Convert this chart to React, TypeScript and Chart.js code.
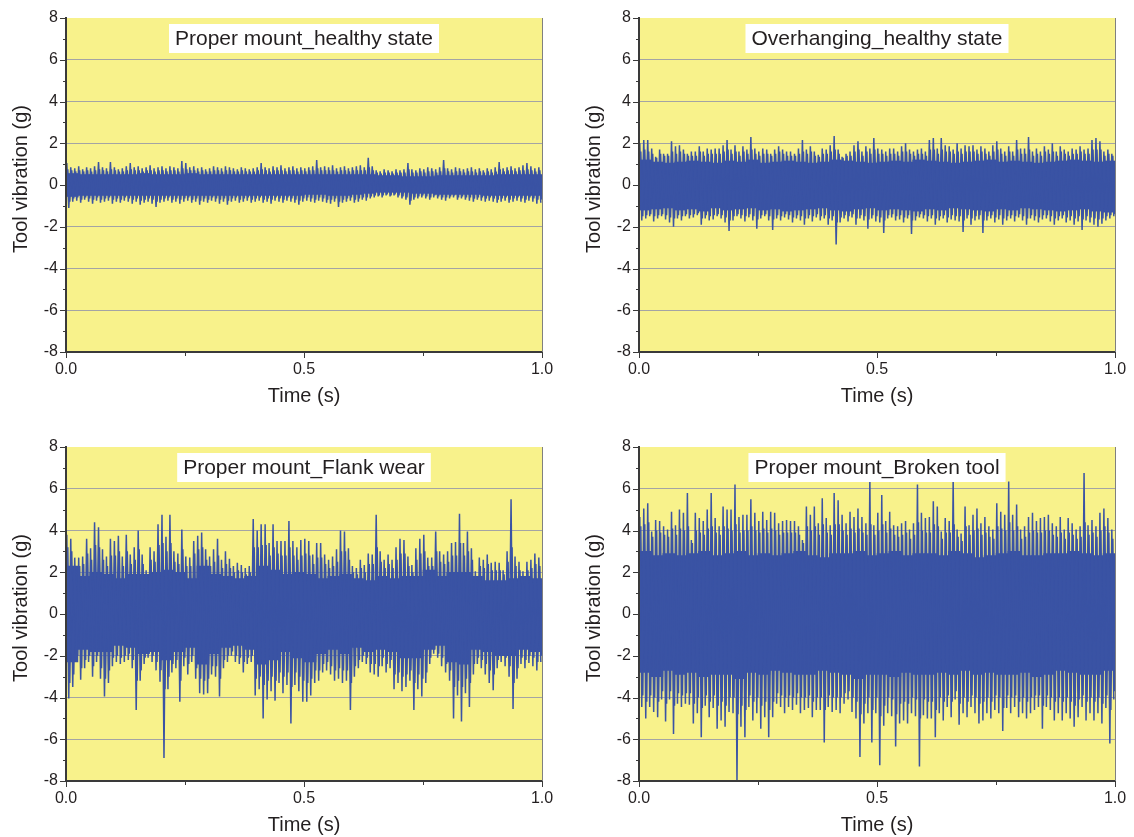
import React, { useEffect, useRef } from 'react';
import { Chart, registerables } from 'chart.js';

Chart.register(...registerables);

// ---------------- DATA ----------------
const X_TITLE = 'Time (s)';
const Y_TITLE = 'Tool vibration (g)';
const Y_MIN = -8;
const Y_MAX = 8;
const Y_MAJOR_TICKS = [-8, -6, -4, -2, 0, 2, 4, 6, 8];
const Y_MINOR_TICKS = [-7, -5, -3, -1, 1, 3, 5, 7];
const X_MAJOR_TICKS = [0, 0.5, 1.0];
const X_MINOR_TICKS = [0.25, 0.75];

const TL_TITLE = 'Proper mount_healthy state';
const TR_TITLE = 'Overhanging_healthy state';
const BL_TITLE = 'Proper mount_Flank wear';
const BR_TITLE = 'Proper mount_Broken tool';

// solid core band of the signal (40 bins over 0..1 s)
const TL_CORE_HI = [0.55,0.5,0.5,0.5,0.5,0.5,0.55,0.5,0.5,0.5,0.55,0.5,0.5,0.5,0.5,0.5,0.5,0.5,0.5,0.5,0.5,0.5,0.5,0.5,0.5,0.5,0.45,0.45,0.4,0.4,0.4,0.45,0.45,0.45,0.45,0.45,0.5,0.5,0.5,0.5];
const TL_CORE_LO = [-0.55,-0.5,-0.5,-0.5,-0.5,-0.5,-0.5,-0.5,-0.5,-0.5,-0.5,-0.5,-0.5,-0.5,-0.5,-0.5,-0.5,-0.5,-0.5,-0.5,-0.45,-0.45,-0.5,-0.5,-0.45,-0.4,-0.35,-0.35,-0.35,-0.4,-0.4,-0.45,-0.45,-0.45,-0.45,-0.5,-0.5,-0.5,-0.5,-0.5];
// extreme envelope: max / min in each of 120 bins over 0..1 s
const TL_PEAK_HI = [
  1.05,0.85,0.8,0.9,0.75,0.85,0.8,0.9,1.1,0.85,
  0.8,1.1,0.85,0.75,0.8,0.9,1.05,0.85,0.9,0.8,
  0.85,0.95,0.8,0.85,0.9,0.8,0.9,0.85,0.8,1.15,
  1.05,0.85,0.9,0.8,0.85,0.75,0.8,0.9,0.85,0.8,
  0.9,0.85,0.8,0.75,0.85,0.8,0.75,0.8,0.85,1.05,
  0.85,0.8,0.9,0.85,0.95,0.8,0.85,0.9,0.8,0.85,
  0.8,0.85,0.9,1.2,0.85,0.9,0.85,0.95,0.8,0.85,
  0.9,0.8,0.85,0.9,0.95,0.85,1.3,0.9,0.7,0.65,
  0.75,0.7,0.65,0.75,0.7,0.75,1.05,0.75,0.7,0.8,
  0.75,0.85,0.8,0.75,0.85,1.2,0.8,0.75,0.85,0.8,
  0.75,0.8,0.85,0.75,0.8,0.7,0.8,0.75,0.85,1.1,
  0.8,0.85,0.9,0.8,0.85,0.95,1.05,0.9,0.8,0.85];
const TL_PEAK_LO = [
  -1.1,-0.8,-0.75,-0.85,-0.7,-0.8,-0.9,-0.75,-0.85,-0.8,
  -0.75,-0.9,-0.8,-0.85,-0.75,-0.8,-0.9,-0.8,-0.95,-0.85,
  -0.8,-0.9,-1.05,-0.85,-0.8,-0.75,-0.85,-0.8,-0.9,-0.8,
  -0.75,-0.85,-0.8,-0.95,-0.8,-0.85,-0.75,-0.8,-0.9,-0.8,
  -0.95,-0.8,-0.75,-0.85,-0.8,-0.75,-0.85,-0.8,-0.75,-0.85,
  -0.8,-0.9,-0.75,-0.8,-0.85,-0.75,-0.8,-0.85,-0.95,-0.8,
  -0.75,-0.8,-0.85,-0.75,-0.8,-0.85,-0.9,-0.8,-1.05,-0.85,
  -0.8,-0.75,-0.85,-0.8,-0.7,-0.75,-0.65,-0.6,-0.55,-0.6,
  -0.5,-0.55,-0.5,-0.6,-0.65,-0.7,-0.95,-0.7,-0.65,-0.6,
  -0.65,-0.7,-0.6,-0.65,-0.7,-0.75,-0.65,-0.6,-0.7,-0.65,
  -0.7,-0.75,-0.8,-0.7,-0.75,-0.8,-0.75,-0.8,-0.85,-0.8,
  -0.75,-0.85,-0.8,-0.75,-0.8,-0.85,-0.75,-0.8,-0.9,-0.85];
// dense envelope (typical swing) in each of 120 bins
const TL_MID_HI = [
  0.75,0.7,0.65,0.7,0.65,0.7,0.65,0.7,0.75,0.7,
  0.65,0.75,0.7,0.65,0.65,0.7,0.75,0.7,0.7,0.65,
  0.7,0.7,0.65,0.7,0.7,0.65,0.7,0.7,0.65,0.8,
  0.75,0.7,0.7,0.65,0.7,0.65,0.65,0.7,0.7,0.65,
  0.7,0.7,0.65,0.65,0.7,0.65,0.65,0.65,0.7,0.75,
  0.7,0.65,0.7,0.7,0.7,0.65,0.7,0.7,0.65,0.7,
  0.65,0.7,0.7,0.8,0.7,0.7,0.7,0.7,0.65,0.7,
  0.7,0.65,0.7,0.7,0.7,0.7,0.85,0.7,0.6,0.55,
  0.6,0.6,0.55,0.6,0.6,0.6,0.75,0.6,0.6,0.65,
  0.6,0.65,0.65,0.6,0.65,0.8,0.65,0.6,0.65,0.65,
  0.6,0.65,0.65,0.6,0.65,0.6,0.65,0.6,0.65,0.75,
  0.65,0.7,0.7,0.65,0.7,0.7,0.75,0.7,0.65,0.7];
const TL_MID_LO = [
  -0.8,-0.65,-0.6,-0.7,-0.6,-0.65,-0.7,-0.6,-0.7,-0.65,
  -0.6,-0.7,-0.65,-0.7,-0.6,-0.65,-0.7,-0.65,-0.75,-0.7,
  -0.65,-0.7,-0.8,-0.7,-0.65,-0.6,-0.7,-0.65,-0.7,-0.65,
  -0.6,-0.7,-0.65,-0.75,-0.65,-0.7,-0.6,-0.65,-0.7,-0.65,
  -0.75,-0.65,-0.6,-0.7,-0.65,-0.6,-0.7,-0.65,-0.6,-0.7,
  -0.65,-0.7,-0.6,-0.65,-0.7,-0.6,-0.65,-0.7,-0.75,-0.65,
  -0.6,-0.65,-0.7,-0.6,-0.65,-0.7,-0.7,-0.65,-0.8,-0.7,
  -0.65,-0.6,-0.7,-0.65,-0.6,-0.6,-0.55,-0.5,-0.5,-0.5,
  -0.45,-0.5,-0.45,-0.5,-0.55,-0.6,-0.75,-0.6,-0.55,-0.5,
  -0.55,-0.6,-0.5,-0.55,-0.6,-0.6,-0.55,-0.5,-0.6,-0.55,
  -0.6,-0.6,-0.65,-0.6,-0.6,-0.65,-0.6,-0.65,-0.7,-0.65,
  -0.6,-0.7,-0.65,-0.6,-0.65,-0.7,-0.6,-0.65,-0.7,-0.7];

const TR_CORE_HI = [1.2,1.1,1.05,1.1,1.15,1.1,1.05,1.15,1.1,1.2,1.05,1.1,1.15,1.1,1.05,1.1,1.2,1.15,1.1,1.05,1.1,1.15,1.1,1.2,1.15,1.1,1.05,1.1,1.15,1.2,1.1,1.15,1.1,1.05,1.1,1.15,1.2,1.15,1.1,1.15];
const TR_CORE_LO = [-1.2,-1.15,-1.1,-1.2,-1.15,-1.25,-1.1,-1.2,-1.15,-1.1,-1.2,-1.15,-1.25,-1.2,-1.15,-1.1,-1.2,-1.25,-1.15,-1.1,-1.2,-1.15,-1.2,-1.25,-1.15,-1.2,-1.1,-1.15,-1.2,-1.25,-1.15,-1.2,-1.1,-1.15,-1.2,-1.25,-1.2,-1.15,-1.25,-1.3];
const TR_PEAK_HI = [
  2.0,2.15,2.15,1.75,1.35,1.7,1.5,1.5,2.1,1.85,
  1.9,1.7,1.5,1.6,1.6,1.85,1.6,1.75,1.7,1.75,
  1.75,1.9,2.15,1.7,1.9,1.6,1.85,1.7,2.3,1.75,
  1.6,1.75,1.7,1.5,1.7,1.85,1.7,1.6,1.6,1.5,
  1.75,2.15,1.7,1.85,1.6,1.45,1.75,1.7,1.9,2.35,
  1.7,1.35,1.5,1.6,1.9,2.1,1.6,1.85,1.75,2.25,
  1.75,1.7,1.6,1.75,1.75,1.6,1.85,2.0,1.7,1.6,
  1.7,1.75,1.6,2.15,2.25,1.75,2.25,1.9,1.85,1.7,
  2.0,1.75,1.9,1.85,1.9,1.7,1.85,1.75,1.6,1.9,
  2.1,1.75,1.6,1.85,1.6,2.15,1.75,1.75,2.3,1.6,
  1.75,1.6,1.85,1.7,2.0,1.6,1.85,1.7,1.6,1.75,
  1.7,1.85,1.7,1.75,2.15,2.25,2.1,1.6,1.7,1.5];
const TR_PEAK_LO = [
  -1.7,-1.6,-1.5,-1.75,-1.6,-1.5,-1.65,-1.8,-2.0,-1.6,
  -1.7,-1.5,-1.6,-1.55,-1.45,-1.9,-1.6,-1.7,-1.65,-1.5,
  -1.6,-1.8,-2.2,-1.7,-1.5,-1.6,-1.75,-1.55,-1.7,-2.1,
  -1.6,-1.5,-1.7,-2.15,-1.6,-1.7,-1.55,-1.65,-1.8,-1.6,
  -1.7,-1.9,-1.6,-1.75,-1.55,-1.7,-1.6,-1.9,-1.7,-2.85,
  -1.8,-1.6,-1.75,-1.55,-1.9,-1.6,-1.7,-2.1,-1.6,-1.75,
  -1.8,-2.3,-1.6,-1.55,-1.7,-1.65,-1.8,-1.6,-2.35,-1.7,
  -1.55,-1.6,-1.75,-1.6,-1.9,-1.7,-1.6,-1.8,-1.65,-1.7,
  -1.75,-2.25,-1.6,-1.9,-1.7,-1.65,-2.3,-1.7,-1.6,-1.8,
  -1.65,-1.9,-1.7,-1.6,-1.75,-1.55,-1.7,-1.9,-1.6,-1.7,
  -1.8,-1.65,-1.6,-1.75,-1.9,-1.7,-1.6,-1.8,-1.7,-1.9,
  -1.75,-2.15,-1.7,-1.8,-1.9,-2.0,-1.85,-1.7,-1.6,-1.5];
const TR_MID_HI = [
  1.6,1.7,1.6,1.5,1.3,1.5,1.4,1.4,1.6,1.5,
  1.6,1.5,1.4,1.4,1.4,1.6,1.4,1.5,1.5,1.5,
  1.5,1.6,1.7,1.5,1.6,1.4,1.6,1.5,1.7,1.5,
  1.4,1.5,1.5,1.4,1.5,1.6,1.5,1.4,1.4,1.4,
  1.5,1.6,1.5,1.6,1.4,1.35,1.5,1.5,1.6,1.7,
  1.5,1.3,1.4,1.4,1.6,1.7,1.4,1.6,1.5,1.7,
  1.5,1.5,1.4,1.5,1.5,1.4,1.6,1.6,1.5,1.4,
  1.5,1.5,1.4,1.7,1.7,1.5,1.7,1.6,1.6,1.5,
  1.6,1.5,1.6,1.6,1.6,1.5,1.6,1.5,1.4,1.6,
  1.7,1.5,1.4,1.6,1.4,1.7,1.5,1.5,1.7,1.4,
  1.5,1.4,1.6,1.5,1.6,1.4,1.6,1.5,1.4,1.5,
  1.5,1.6,1.5,1.5,1.7,1.7,1.7,1.4,1.5,1.4];
const TR_MID_LO = [
  -1.5,-1.45,-1.4,-1.5,-1.45,-1.4,-1.45,-1.55,-1.6,-1.45,
  -1.5,-1.4,-1.45,-1.4,-1.35,-1.6,-1.45,-1.5,-1.45,-1.4,
  -1.45,-1.55,-1.7,-1.5,-1.4,-1.45,-1.5,-1.4,-1.5,-1.65,
  -1.45,-1.4,-1.5,-1.65,-1.45,-1.5,-1.4,-1.45,-1.55,-1.45,
  -1.5,-1.6,-1.45,-1.5,-1.4,-1.5,-1.45,-1.6,-1.5,-1.8,
  -1.55,-1.45,-1.5,-1.4,-1.6,-1.45,-1.5,-1.65,-1.45,-1.5,
  -1.55,-1.7,-1.45,-1.4,-1.5,-1.45,-1.55,-1.45,-1.7,-1.5,
  -1.4,-1.45,-1.5,-1.45,-1.6,-1.5,-1.45,-1.55,-1.45,-1.5,
  -1.5,-1.7,-1.45,-1.6,-1.5,-1.45,-1.7,-1.5,-1.45,-1.55,
  -1.45,-1.6,-1.5,-1.45,-1.5,-1.4,-1.5,-1.6,-1.45,-1.5,
  -1.55,-1.45,-1.45,-1.5,-1.6,-1.5,-1.45,-1.55,-1.5,-1.6,
  -1.5,-1.65,-1.5,-1.55,-1.6,-1.65,-1.6,-1.5,-1.45,-1.4];

const BL_CORE_HI = [2.3,1.8,2.0,1.9,1.7,1.9,1.9,2.0,2.1,2.0,1.7,2.3,1.9,1.8,1.7,1.8,2.3,2.1,1.9,2.0,1.9,1.7,1.8,1.9,1.7,1.6,1.8,1.7,1.8,1.8,2.1,1.8,2.0,2.0,1.8,1.6,1.6,1.7,1.8,1.7];
const BL_CORE_LO = [-2.3,-1.7,-1.8,-1.8,-1.5,-1.6,-1.9,-1.8,-2.2,-1.8,-1.6,-2.4,-1.9,-1.6,-1.5,-1.7,-2.4,-2.2,-1.8,-2.1,-2.3,-1.9,-1.7,-1.9,-1.6,-1.8,-1.7,-1.8,-2.1,-2.1,-1.7,-1.5,-2.3,-2.4,-1.7,-1.8,-2.0,-2.0,-1.7,-1.8];
const BL_PEAK_HI = [
  3.8,3.6,2.7,2.7,2.75,3.6,3.15,4.4,4.15,3.1,
  2.75,3.6,3.5,3.75,2.75,3.8,2.85,3.2,4.0,2.85,
  2.1,3.2,3.0,4.3,4.75,3.7,4.75,3.0,2.9,4.05,
  2.75,2.7,3.5,3.75,3.9,3.1,2.75,3.1,3.6,2.6,
  3.0,2.65,2.3,2.45,2.35,2.2,2.3,4.55,4.0,4.3,
  4.3,3.4,4.3,3.5,3.5,3.5,4.45,3.5,3.2,3.55,
  3.6,3.5,2.85,3.4,3.4,2.85,2.6,2.75,3.1,4.0,
  3.95,3.15,2.3,2.2,2.6,2.35,2.9,2.85,4.75,3.0,
  2.6,2.85,2.6,3.2,3.6,3.55,2.75,2.35,3.15,3.6,
  3.8,2.7,2.7,3.95,3.0,2.85,3.0,3.4,3.45,4.8,
  3.4,3.95,3.15,2.05,2.7,2.6,2.85,2.45,2.5,2.45,
  2.1,3.0,5.5,2.75,2.5,2.05,2.5,2.6,2.9,2.7];
const BL_PEAK_LO = [
  -4.05,-3.5,-2.3,-3.15,-2.6,-2.3,-3.0,-2.3,-3.1,-3.95,
  -3.3,-2.5,-2.3,-2.4,-2.3,-2.2,-2.6,-4.6,-3.2,-2.4,
  -2.1,-2.3,-2.7,-3.25,-6.9,-3.6,-2.8,-2.6,-4.2,-2.5,
  -2.9,-2.3,-3.1,-3.8,-3.85,-3.8,-2.9,-3.0,-3.95,-2.6,
  -2.3,-2.0,-2.3,-2.4,-2.8,-2.4,-2.3,-3.9,-3.6,-5.0,
  -4.1,-3.7,-4.15,-3.3,-3.8,-3.4,-5.25,-3.4,-3.7,-4.2,
  -4.2,-3.9,-3.3,-3.2,-2.8,-2.7,-2.9,-3.2,-3.1,-3.3,
  -3.2,-4.6,-3.0,-2.6,-2.3,-2.4,-2.8,-2.9,-3.0,-2.5,
  -2.8,-2.6,-3.6,-3.3,-3.7,-3.5,-3.2,-4.6,-3.6,-3.95,
  -3.3,-2.4,-1.9,-2.1,-2.5,-2.8,-3.2,-5.0,-3.9,-5.15,
  -3.8,-4.45,-2.9,-2.4,-2.6,-2.9,-3.3,-3.65,-2.6,-2.3,
  -2.5,-3.0,-4.55,-3.1,-2.4,-2.6,-2.35,-2.5,-2.7,-2.3];
const BL_MID_HI = [
  3.2,3.0,2.3,2.3,2.4,2.9,2.6,3.3,3.2,2.6,
  2.3,2.8,2.8,3.0,2.3,3.0,2.4,2.6,3.1,2.4,
  1.9,2.6,2.5,3.3,3.4,3.0,3.4,2.5,2.4,3.1,
  2.3,2.3,2.9,3.1,3.2,2.6,2.3,2.5,2.8,2.2,
  2.4,2.2,2.0,2.1,2.0,1.9,2.0,3.2,3.2,3.3,
  3.3,2.8,3.2,2.9,2.8,2.8,3.2,2.8,2.6,2.8,
  2.9,2.8,2.4,2.7,2.7,2.4,2.2,2.3,2.5,3.0,
  3.0,2.6,2.0,1.9,2.2,2.0,2.4,2.4,3.2,2.5,
  2.2,2.4,2.2,2.6,2.9,2.9,2.3,2.0,2.6,2.9,
  3.0,2.3,2.3,3.0,2.5,2.4,2.5,2.8,2.8,3.4,
  2.8,3.0,2.6,1.8,2.3,2.2,2.4,2.1,2.1,2.1,
  1.9,2.5,3.2,2.3,2.1,1.8,2.1,2.2,2.4,2.3];
const BL_MID_LO = [
  -3.3,-2.9,-2.0,-2.6,-2.2,-2.0,-2.5,-2.0,-2.6,-3.1,
  -2.7,-2.1,-2.0,-2.1,-2.0,-1.9,-2.2,-3.2,-2.7,-2.1,
  -1.9,-2.0,-2.3,-2.7,-3.6,-3.0,-2.4,-2.2,-3.2,-2.1,
  -2.4,-2.0,-2.6,-3.1,-3.2,-3.1,-2.5,-2.5,-3.1,-2.2,
  -2.0,-1.8,-2.0,-2.1,-2.3,-2.1,-2.0,-3.1,-3.0,-3.4,
  -3.2,-3.0,-3.2,-2.8,-3.0,-2.8,-3.5,-2.8,-3.0,-3.2,
  -3.3,-3.1,-2.7,-2.7,-2.4,-2.3,-2.5,-2.7,-2.6,-2.7,
  -2.7,-3.3,-2.5,-2.2,-2.0,-2.1,-2.4,-2.4,-2.5,-2.1,
  -2.4,-2.2,-2.9,-2.8,-3.0,-2.9,-2.7,-3.3,-2.9,-3.1,
  -2.8,-2.1,-1.7,-1.9,-2.1,-2.4,-2.7,-3.5,-3.2,-3.5,
  -3.1,-3.3,-2.4,-2.1,-2.2,-2.4,-2.7,-2.9,-2.2,-2.0,
  -2.1,-2.5,-3.3,-2.6,-2.1,-2.2,-2.0,-2.1,-2.3,-2.0];

const BR_CORE_HI = [3.0,2.8,2.9,2.8,2.9,3.0,2.8,2.9,3.0,2.8,2.9,2.8,2.9,3.0,2.8,2.7,2.9,2.9,3.0,2.8,2.9,3.0,2.8,2.9,2.9,2.8,3.0,2.9,2.7,2.8,2.9,3.0,2.8,2.8,2.9,2.9,3.0,2.9,2.8,2.9];
const BR_CORE_LO = [-2.8,-3.0,-2.7,-2.9,-2.8,-3.0,-2.9,-2.9,-3.1,-2.8,-2.9,-2.7,-2.8,-2.9,-2.9,-2.7,-2.8,-2.9,-3.1,-2.9,-2.9,-3.0,-2.8,-2.9,-2.9,-2.8,-2.9,-2.7,-2.9,-2.8,-2.9,-2.9,-2.8,-3.0,-2.9,-2.7,-2.8,-2.9,-2.9,-2.7];
const BR_PEAK_HI = [
  4.65,5.05,5.3,3.95,4.5,4.45,4.2,4.05,4.9,4.25,
  5.0,4.85,5.8,3.55,4.85,4.6,4.45,5.0,5.8,4.6,
  4.2,5.15,5.0,5.0,6.2,4.65,4.75,4.75,5.5,4.85,
  4.45,4.9,4.5,4.9,4.85,4.35,4.45,4.5,4.45,4.45,
  4.2,3.55,5.15,4.75,5.15,4.35,5.55,4.6,4.25,5.8,
  5.45,4.75,4.35,4.9,4.65,5.05,4.65,4.35,6.45,4.25,
  4.85,5.7,4.45,4.9,4.25,4.2,4.35,4.45,4.05,4.35,
  6.2,4.85,4.6,4.65,5.4,5.15,3.95,4.6,4.45,6.4,
  4.05,3.85,5.15,4.25,4.75,5.05,4.35,4.65,4.2,4.05,
  5.3,4.9,4.75,6.35,4.75,5.25,4.05,4.2,4.65,4.85,
  4.45,4.6,4.65,4.75,4.35,4.2,4.65,4.05,4.6,4.35,
  4.05,4.2,6.75,4.25,4.5,4.2,4.85,5.05,4.6,4.05];
const BR_PEAK_LO = [
  -4.45,-5.0,-4.45,-4.7,-4.95,-4.1,-5.15,-4.1,-5.75,-4.3,
  -4.45,-4.3,-4.35,-5.25,-4.75,-5.9,-4.4,-4.95,-4.5,-5.5,
  -5.1,-5.4,-4.7,-4.75,-8.0,-5.4,-5.9,-4.45,-5.1,-4.75,
  -5.5,-4.95,-5.9,-4.95,-4.3,-4.45,-4.75,-4.45,-4.6,-4.35,
  -4.75,-4.6,-4.5,-4.95,-4.6,-4.6,-6.15,-4.45,-4.7,-4.6,
  -4.75,-4.3,-4.1,-4.7,-5.0,-6.85,-5.25,-4.75,-6.15,-4.75,
  -7.25,-5.35,-4.75,-4.9,-6.35,-5.25,-5.1,-5.25,-4.75,-4.9,
  -7.3,-4.85,-5.0,-5.0,-5.9,-4.75,-5.1,-4.45,-4.95,-4.1,
  -5.3,-4.75,-4.95,-4.45,-4.75,-5.25,-5.1,-4.75,-5.0,-4.6,
  -4.75,-5.6,-4.5,-4.75,-4.45,-4.95,-4.75,-5.0,-4.75,-4.6,
  -4.45,-5.5,-4.45,-4.6,-5.1,-4.75,-5.1,-4.75,-5.0,-5.4,
  -4.95,-4.45,-5.1,-4.75,-5.1,-4.75,-5.25,-4.5,-6.2,-4.1];
const BR_MID_HI = [
  4.2,4.3,4.4,3.7,4.0,3.9,3.8,3.7,4.1,3.8,
  4.1,4.0,4.2,3.4,4.0,3.9,3.8,4.1,4.2,3.9,
  3.8,4.2,4.1,4.0,4.3,3.9,4.0,4.0,4.2,4.0,
  3.9,4.1,3.9,4.1,4.0,3.8,3.9,3.9,3.9,3.9,
  3.8,3.4,4.2,4.0,4.2,3.8,4.3,3.9,3.8,4.3,
  4.3,4.0,3.8,4.1,3.9,4.1,3.9,3.8,4.3,3.8,
  4.0,4.3,3.9,4.1,3.8,3.7,3.8,3.9,3.6,3.8,
  4.4,4.0,3.9,3.9,4.3,4.2,3.6,3.9,3.9,4.3,
  3.7,3.5,4.2,3.8,4.0,4.1,3.8,3.9,3.7,3.6,
  4.2,4.1,4.0,4.4,4.0,4.2,3.6,3.7,3.9,4.0,
  3.9,3.9,4.0,4.0,3.8,3.7,3.9,3.6,3.9,3.8,
  3.6,3.7,4.4,3.8,3.9,3.7,4.0,4.2,3.9,3.6];
const BR_MID_LO = [
  -3.9,-4.2,-3.9,-4.0,-4.2,-3.7,-4.3,-3.7,-4.4,-3.8,
  -3.9,-3.8,-3.8,-4.3,-4.0,-4.5,-3.9,-4.2,-3.9,-4.4,
  -4.2,-4.4,-4.0,-4.0,-4.8,-4.4,-4.6,-3.9,-4.2,-4.0,
  -4.4,-4.2,-4.6,-4.2,-3.8,-3.9,-4.0,-3.9,-4.0,-3.8,
  -4.0,-4.0,-3.9,-4.2,-4.0,-4.0,-4.6,-3.9,-4.0,-4.0,
  -4.0,-3.8,-3.7,-4.0,-4.2,-4.8,-4.3,-4.0,-4.6,-4.0,
  -4.9,-4.4,-4.0,-4.1,-4.8,-4.3,-4.2,-4.3,-4.0,-4.1,
  -5.0,-4.1,-4.2,-4.2,-4.6,-4.0,-4.2,-3.9,-4.2,-3.7,
  -4.3,-4.0,-4.2,-3.9,-4.0,-4.3,-4.2,-4.0,-4.2,-3.9,
  -4.0,-4.5,-3.9,-4.0,-3.9,-4.2,-4.0,-4.2,-4.0,-3.9,
  -3.9,-4.4,-3.9,-4.0,-4.2,-4.0,-4.2,-4.0,-4.2,-4.4,
  -4.1,-3.9,-4.2,-4.0,-4.2,-4.0,-4.3,-3.9,-4.6,-3.7];

// ---------------- LAYOUT / STYLE ----------------
const FONT = '"Liberation Sans", Arial, Helvetica, sans-serif';
const BG = '#f8f28b';
const BLUE = '#3a53a4';
const TEXT = '#231f20';
const GRID = '#a4a4a4';
const AXIS = '#3a3a3a';
const PAD_L = 66;
const PAD_T = 18;
const PAD_R = 14;
const PAD_B = 56;

type PanelProps = {
  title: string;
  coreHi: number[];
  coreLo: number[];
  peakHi: number[];
  peakLo: number[];
  midHi: number[];
  midLo: number[];
  L: number;
  R: number;
  T: number;
  B: number;
};

function zigzag(hi: number[], lo: number[], phase: number) {
  const n = hi.length;
  const pts: { x: number; y: number }[] = [];
  for (let i = 0; i < n; i++) {
    pts.push({ x: (i + phase) / n, y: hi[i] });
    pts.push({ x: (i + phase + 0.5) / n, y: lo[i] });
  }
  return pts;
}

function Panel(p: PanelProps) {
  const ref = useRef<HTMLCanvasElement | null>(null);
  const w = p.R - p.L + PAD_L + PAD_R;
  const h = p.B - p.T + PAD_T + PAD_B;

  useEffect(() => {
    const canvas = ref.current;
    if (!canvas) return;
    const coreLabels = p.coreHi.map((_, i) => String(i));
    const coreData = p.coreHi.map((v, i) => [p.coreLo[i], v]);
    const peakTrace = zigzag(p.peakHi, p.peakLo, 0.2);
    const midTrace = zigzag(p.midHi, p.midLo, 0.45);

    const decor = {
      id: 'decor',
      beforeDraw(chart: any) {
        const { ctx, chartArea: a } = chart;
        ctx.save();
        ctx.fillStyle = BG;
        ctx.fillRect(a.left, a.top, a.right - a.left, a.bottom - a.top);
        ctx.restore();
      },
      afterDraw(chart: any) {
        const { ctx, chartArea: a, scales } = chart;
        const xs = scales.x;
        const ys = scales.y;
        ctx.save();
        ctx.strokeStyle = '#808080';
        ctx.lineWidth = 1;
        ctx.beginPath();
        ctx.moveTo(Math.round(a.right) + 0.5, a.top);
        ctx.lineTo(Math.round(a.right) + 0.5, a.bottom);
        ctx.stroke();
        ctx.strokeStyle = AXIS;
        ctx.lineWidth = 1;
        const yTick = (v: number, len: number) => {
          const y = Math.round(ys.getPixelForValue(v)) + 0.5;
          ctx.beginPath();
          ctx.moveTo(a.left - len, y);
          ctx.lineTo(a.left, y);
          ctx.stroke();
        };
        const xTick = (v: number, len: number) => {
          const x = Math.round(xs.getPixelForValue(v)) + 0.5;
          ctx.beginPath();
          ctx.moveTo(x, a.bottom);
          ctx.lineTo(x, a.bottom + len);
          ctx.stroke();
        };
        Y_MAJOR_TICKS.forEach((v) => yTick(v, 6));
        Y_MINOR_TICKS.forEach((v) => yTick(v, 3));
        X_MAJOR_TICKS.forEach((v) => xTick(v, 6));
        X_MINOR_TICKS.forEach((v) => xTick(v, 4));
        ctx.fillStyle = TEXT;
        ctx.font = `20px ${FONT}`;
        ctx.textAlign = 'center';
        ctx.textBaseline = 'middle';
        ctx.fillText(X_TITLE, (a.left + a.right) / 2, a.bottom + 44);
        ctx.save();
        ctx.translate(a.left - 45, (a.top + a.bottom) / 2 - 6);
        ctx.rotate(-Math.PI / 2);
        ctx.fillText(Y_TITLE, 0, 0);
        ctx.restore();
        ctx.font = `21px ${FONT}`;
        const tw = ctx.measureText(p.title).width;
        const bw = tw + 12;
        const bh = 29;
        const cx = (a.left + a.right) / 2;
        ctx.fillStyle = '#ffffff';
        ctx.fillRect(cx - bw / 2, a.top + 6, bw, bh);
        ctx.fillStyle = TEXT;
        ctx.fillText(p.title, cx, a.top + 6 + bh / 2 + 1);
        ctx.restore();
      },
    };

    const lineStyle = {
      type: 'line',
      xAxisID: 'x',
      yAxisID: 'y',
      borderColor: BLUE,
      borderWidth: 1.5,
      pointRadius: 0,
      tension: 0,
      fill: false,
    };

    const chart = new Chart(canvas, {
      type: 'bar',
      data: {
        datasets: [
          {
            type: 'bar',
            data: coreData as any,
            xAxisID: 'xc',
            yAxisID: 'y',
            backgroundColor: BLUE,
            borderWidth: 0,
            barPercentage: 1,
            categoryPercentage: 1,
            grouped: false,
            order: 3,
          } as any,
          { ...lineStyle, data: midTrace as any, order: 2 } as any,
          { ...lineStyle, data: peakTrace as any, order: 1 } as any,
        ],
      },
      options: {
        responsive: false,
        animation: false,
        devicePixelRatio: 1,
        events: [],
        layout: { padding: { left: 0, right: PAD_R, top: PAD_T, bottom: 0 } },
        plugins: {
          legend: { display: false },
          tooltip: { enabled: false },
          title: { display: false },
        },
        scales: {
          xc: { type: 'category', labels: coreLabels, display: false, offset: true },
          x: {
            type: 'linear',
            position: 'bottom',
            min: 0,
            max: 1,
            offset: false,
            ticks: {
              stepSize: 0.5,
              autoSkip: false,
              maxRotation: 0,
              padding: 8,
              color: TEXT,
              font: { family: FONT, size: 16 },
              callback: (v: any) => Number(v).toFixed(1),
            },
            grid: { display: true, offset: false, drawOnChartArea: false, drawTicks: false },
            border: { display: true, color: AXIS, width: 2, z: 2 },
            afterFit: (s: any) => {
              s.height = PAD_B;
              s.paddingLeft = 0;
              s.paddingRight = 0;
            },
          },
          y: {
            type: 'linear',
            position: 'left',
            min: Y_MIN,
            max: Y_MAX,
            ticks: {
              stepSize: 2,
              autoSkip: false,
              padding: 8,
              color: TEXT,
              font: { family: FONT, size: 16 },
              callback: (v: any) => String(v),
            },
            grid: {
              drawTicks: false,
              lineWidth: 1,
              color: (ctx: any) =>
                ctx.tick && Math.abs(ctx.tick.value) !== 8 ? GRID : 'rgba(0,0,0,0)',
            },
            border: { display: true, color: AXIS, width: 2, z: 2 },
            afterFit: (s: any) => {
              s.width = PAD_L;
              s.paddingTop = 0;
              s.paddingBottom = 0;
            },
          },
        } as any,
      },
      plugins: [decor],
    });
    return () => chart.destroy();
  }, []);

  return (
    <canvas
      ref={ref}
      width={w}
      height={h}
      style={{ position: 'absolute', left: p.L - PAD_L, top: p.T - PAD_T, width: w, height: h }}
    />
  );
}

export default function App() {
  return (
    <div
      style={{
        position: 'absolute',
        left: 0,
        top: 0,
        width: 1134,
        height: 837,
        background: '#ffffff',
        overflow: 'hidden',
      }}
    >
      <Panel title={TL_TITLE} coreHi={TL_CORE_HI} coreLo={TL_CORE_LO} peakHi={TL_PEAK_HI} peakLo={TL_PEAK_LO} midHi={TL_MID_HI} midLo={TL_MID_LO} L={66} R={542} T={18} B={352} />
      <Panel title={TR_TITLE} coreHi={TR_CORE_HI} coreLo={TR_CORE_LO} peakHi={TR_PEAK_HI} peakLo={TR_PEAK_LO} midHi={TR_MID_HI} midLo={TR_MID_LO} L={639} R={1115} T={18} B={352} />
      <Panel title={BL_TITLE} coreHi={BL_CORE_HI} coreLo={BL_CORE_LO} peakHi={BL_PEAK_HI} peakLo={BL_PEAK_LO} midHi={BL_MID_HI} midLo={BL_MID_LO} L={66} R={542} T={447} B={781} />
      <Panel title={BR_TITLE} coreHi={BR_CORE_HI} coreLo={BR_CORE_LO} peakHi={BR_PEAK_HI} peakLo={BR_PEAK_LO} midHi={BR_MID_HI} midLo={BR_MID_LO} L={639} R={1115} T={447} B={781} />
    </div>
  );
}
